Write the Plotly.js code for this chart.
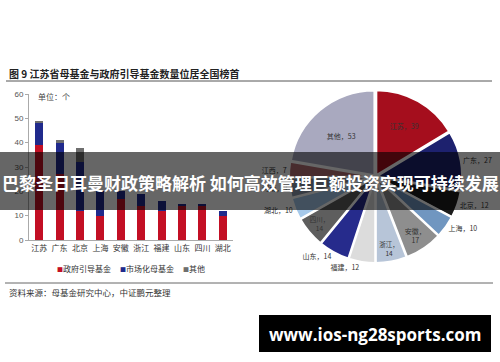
<!DOCTYPE html>
<html><head><meta charset="utf-8">
<script src="https://cdn.plot.ly/plotly-3.0.1.min.js"></script>
<style>html,body{margin:0;padding:0;background:#fff}#c{width:500px;height:362px}</style>
</head><body><div id="c"></div>
<script>
// ---- data ----
const categories = ['江苏','广东','北京','上海','安徽','浙江','福建','山东','四川','湖北'];
const govFunds    = [39, 27, 12, 10, 17, 14, 12, 14, 14, 10];
const marketFunds = [9, 13, 20, 10, 3, 5, 4, 1, 1, 2];
const otherFunds  = [1, 1, 6, 0, 0, 0, 0, 0, 0, 0];
const seriesNames = ['政府引导基金','市场化母基金','其他'];
const yTicks = [0,10,20,30,40,50,60];

const pieLabels = ['江苏','广东','北京','上海','安徽','浙江','福建','山东','四川','湖北','河南','江西','其他'];
const pieValues = [39, 27, 12, 10, 17, 14, 12, 14, 14, 10, 9, 7, 53];

const titleText = '图 9 江苏省母基金与政府引导基金数量位居全国榜首';
const sourceText = '资料来源：母基金研究中心，中证鹏元整理';
const unitText = '单位：个';
const bannerText = '巴黎圣日耳曼财政策略解析 如何高效管理巨额投资实现可持续发展';
const watermarkText = 'www.ios-ng28sports.com';

// ---- styles ----
const W = 500, H = 362;
const px = x => x / W;
const py = y => 1 - y / H;
const FONT = '"Noto Sans CJK SC", "Noto Sans", sans-serif';
const barColors = ['#c30f24', '#202a8c', '#6e6e6e'];
const pieColors = ['#a50e1d','#1d216e','#1c1c1c','#7096c0','#8e8e8e','#b7c5d8','#dcdcdc','#262b8c','#5e5e5e','#a6c9ea','#8a96ab','#b36f74','#a9a9bf'];
const insideIdx = {0:1, 4:2, 5:2, 8:2, 12:1};
const pieText = pieLabels.map((l,i)=> insideIdx[i]===2 ? l+'，<br>'+pieValues[i] : l+'，'+pieValues[i]);
const pieTextPos = pieLabels.map((l,i)=> insideIdx[i] ? 'inside' : 'outside');

const barSeries = [govFunds, marketFunds, otherFunds];
const traces = barSeries.map((vals,k)=>({
  type:'bar', x:categories, y:vals, name:seriesNames[k],
  marker:{color:barColors[k]}, xaxis:'x', yaxis:'y', hoverinfo:'skip'
}));
traces.push({
  type:'pie', labels:pieLabels, values:pieValues, sort:false, direction:'clockwise',
  rotation:0, text:pieText, textinfo:'text', textposition:pieTextPos,
  insidetextorientation:'horizontal',
  textfont:{family:FONT, size:7, color:'#333'},
  marker:{colors:pieColors, line:{color:'#fff', width:2}},
  pull:0.02, showlegend:false, hoverinfo:'skip',
  domain:{x:[px(289), px(462)], y:[py(263), py(90)]}
});

const legendX = [55, 118, 181];
const annotations = [
  {text:'<b>'+titleText+'</b>', x:px(7), y:py(73), xanchor:'left', yanchor:'middle', font:{family:FONT, size:10, color:'#222'}},
  {text:sourceText, x:px(7), y:py(292), xanchor:'left', yanchor:'middle', font:{family:FONT, size:8.5, color:'#333'}},
  {text:unitText, x:px(36), y:py(96), xanchor:'left', yanchor:'middle', font:{family:FONT, size:8, color:'#444'}},
  {text:'<b>'+bannerText+'</b>', x:0.5, y:py(182), xanchor:'center', yanchor:'middle', font:{family:FONT, size:17, color:'#fff'}},
  {text:'<b>'+watermarkText+'</b>', x:px(375), y:py(334), xanchor:'center', yanchor:'middle', font:{family:'"Open Sans", sans-serif', size:17, color:'#fff'}}
].concat(seriesNames.map((n,k)=>({
  text:'<span style="color:'+barColors[k]+';font-size:6px">■</span>'+n,
  x:px(legendX[k]), y:py(268), xanchor:'left', yanchor:'middle', font:{family:FONT, size:8, color:'#333'}
}))).map(a=>Object.assign({xref:'paper', yref:'paper', showarrow:false}, a));

const shapes = [
  {type:'line', x0:px(6), x1:px(492), y0:py(81), y1:py(81), line:{color:'#555', width:1}},
  {type:'line', x0:px(5), x1:px(493), y0:py(283), y1:py(283), line:{color:'#666', width:1}},
  {type:'rect', x0:0, x1:1, y0:py(210), y1:py(152), fillcolor:'rgba(0,0,0,0.6)', line:{width:0}, layer:'above'},
  {type:'rect', x0:px(259), x1:px(491), y0:py(352), y1:py(315), fillcolor:'#000', line:{width:0}, layer:'above'}
].map(s=>Object.assign({xref:'paper', yref:'paper'}, s));

const layout = {
  width:W, height:H, margin:{l:0,r:0,t:0,b:0}, paper_bgcolor:'#fff', plot_bgcolor:'#fff',
  barmode:'stack', bargap:0.6, showlegend:false,
  font:{family:FONT, size:8, color:'#333'},
  xaxis:{domain:[px(29), px(233)], anchor:'y', showline:true, linecolor:'#aaa', linewidth:1,
    ticks:'', showgrid:false, zeroline:false, tickfont:{family:FONT, size:8, color:'#333'}, fixedrange:true},
  yaxis:{domain:[py(240), py(94)], anchor:'x', range:[0,60], tickvals:yTicks, showline:true, linecolor:'#aaa',
    ticks:'outside', ticklen:3, tickcolor:'#aaa', showgrid:false, zeroline:false,
    tickfont:{family:'"Liberation Sans", Arial, sans-serif', size:8, color:'#555'}, fixedrange:true},
  annotations, shapes
};
Plotly.newPlot('c', traces, layout, {staticPlot:true, displayModeBar:false});
</script></body></html>
